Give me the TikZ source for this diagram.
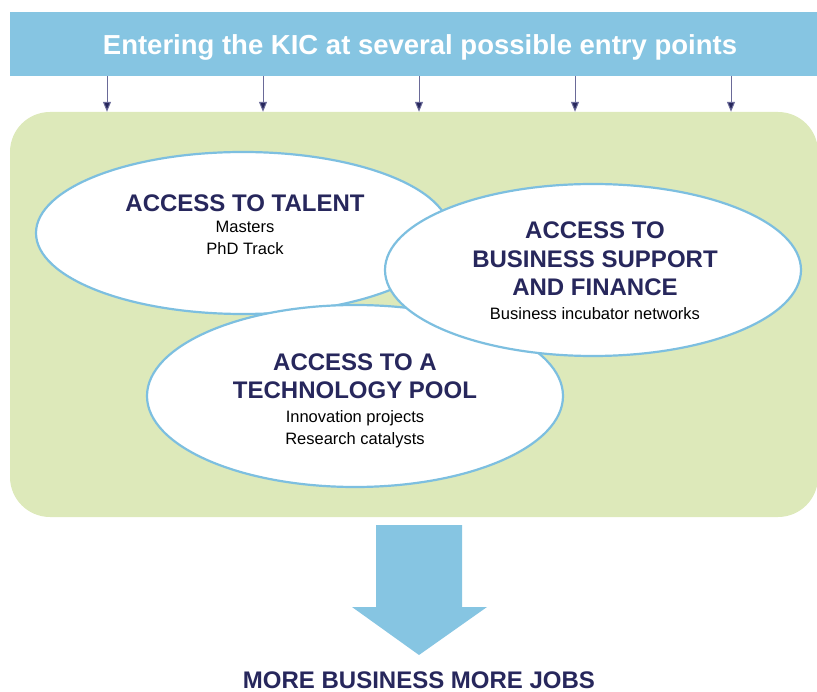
\documentclass[tikz,border=0pt]{standalone}
\usepackage{fontspec}
\setmainfont{Liberation Sans}
\usepackage{tikz}
\usetikzlibrary{
    positioning,    % Relative positioning
    shapes.geometric, % Ellipses
    arrows.meta     % Modern arrow tips
}
\definecolor{kicblue}{HTML}{86C5E2}
\definecolor{kicline}{HTML}{7DBFE0}
\definecolor{kicgreen}{HTML}{DDE9BA}
\definecolor{kicnavy}{HTML}{27275C}
\definecolor{kicstem}{HTML}{6A6A98}

\begin{document}
\begin{tikzpicture}[x=1pt, y=-1pt,
    band/.style={fill=kicblue, minimum width=820pt, minimum height=64pt, inner sep=0pt},
    area/.style={fill=kicgreen, rounded corners=40pt, minimum width=808pt, minimum height=405pt},
    bubble/.style={ellipse, draw=kicline, line width=2.2pt, fill=white, inner sep=0pt},
    head/.style={font=\bfseries\fontsize{24}{28.5}\selectfont, text=kicnavy, align=center, inner sep=0pt},
    sub/.style={font=\fontsize{16.5}{22.5}\selectfont, text=black, align=center, inner sep=0pt},
    entry/.style={draw=kicstem, line width=1pt, -{Triangle[length=10pt, width=8pt, fill=kicnavy]}}
]
    \useasboundingbox (0,0) rectangle (817,692);

    % Top band and green field
    \node[band] (band) at (420,44) {};
    \node[text=white, font=\bfseries\fontsize{27.5}{30}\selectfont, yshift=-3pt] (title) at (band.center) {Entering the KIC at several possible entry points};
    \node[area] (pool) at (414,314.5) {};

    % Entry arrows
    \foreach \x [count=\i] in {107,263,419,575,731} {
        \coordinate (e\i) at (\x,0);
        \draw[entry] (band.south -| e\i) -- (pool.north -| e\i);
    }

    % Three bubbles
    \node[bubble, minimum width=414pt, minimum height=162pt] (talent) at (243,233) {};
    \node[bubble, minimum width=416pt, minimum height=182pt] (tech) at (355,396) {};
    \node[bubble, minimum width=416pt, minimum height=172pt] (business) at (593,270) {};

    \node[head] (talenthd) at (245,203) {ACCESS TO TALENT};
    \node[sub, below=9pt of talenthd] (talentsub) {Masters\\PhD Track};

    \node[head] (businesshd) at (595,259) {ACCESS TO\\BUSINESS SUPPORT\\AND FINANCE};
    \node[sub, below=11pt of businesshd] (businesssub) {Business incubator networks};

    \node[head] (techhd) at (355,376) {ACCESS TO A\\TECHNOLOGY POOL};
    \node[sub, below=11pt of techhd] (techsub) {Innovation projects\\Research catalysts};

    % Outcome
    \fill[kicblue] (376,525) -- (462,525) -- (462,607) -- (487,607) -- (419,655)
        -- (352,607) -- (376,607) -- cycle;
    \node[head, anchor=base] (jobs) at (419,688) {MORE BUSINESS MORE JOBS};
\end{tikzpicture}
\end{document}
